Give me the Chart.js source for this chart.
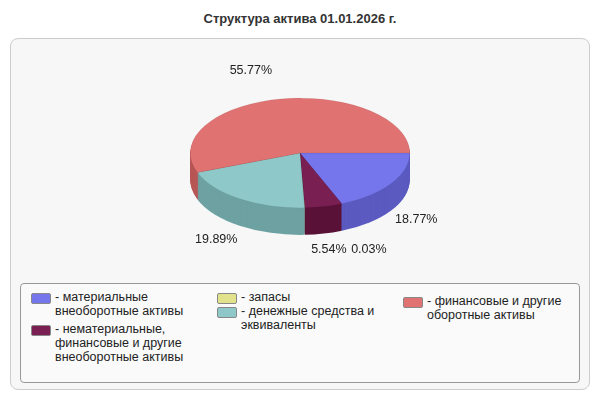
<!DOCTYPE html>
<html><head><meta charset="utf-8">
<script src="https://cdn.jsdelivr.net/npm/chart.js@4"></script>
<style>
body{margin:0;width:600px;height:400px;background:#fff;font-family:Arial,"Liberation Sans",sans-serif;position:relative;overflow:hidden}
#title{position:absolute;top:11px;left:0;width:600px;text-align:center;font-weight:bold;font-size:13px;color:#333}
#panel{position:absolute;left:10px;top:38px;width:578px;height:350px;background:#f7f7f7;border:1px solid #ccc;border-radius:8px}
#c{position:absolute;left:0;top:0}
#legend{position:absolute;left:20px;top:283px;width:558px;height:98px;border:1px solid #999;border-radius:4px;background:#fafafa;font-size:12.5px;color:#222}
.li{position:absolute;display:flex;line-height:14px}
.sw{width:18px;height:9px;border:1px solid #888;border-radius:2px;margin:3px 4px 0 0;flex:none}
</style></head><body>
<div id="panel"></div>
<div id="title">Структура актива 01.01.2026 г.</div>
<canvas id="c" width="600" height="400"></canvas>
<div id="legend"></div>
<script>
const categories=["материальные внеоборотные активы","нематериальные, финансовые и другие внеоборотные активы","запасы","денежные средства и эквиваленты","финансовые и другие оборотные активы"];
const values=[18.77,5.54,0.03,19.89,55.77];
const colors=["#7676ec","#7a1f52","#e2e28c","#8ec8c8","#e07272"];
const sideColors=["#5a5ac0","#5a1238","#b8b86a","#6ea2a2","#b85656"];
const legendPos=[[10,6,"- материальные<br>внеоборотные активы"],[10,38,"- нематериальные,<br>финансовые и другие<br>внеоборотные активы"],[196,6,"- запасы"],[196,20,"- денежные средства и<br>эквиваленты"],[382,10,"- финансовые и другие<br>оборотные активы"]];
const lg=document.getElementById('legend');
legendPos.forEach((p,i)=>{const d=document.createElement('div');d.className='li';d.style.left=p[0]+'px';d.style.top=p[1]+'px';d.innerHTML='<div class="sw" style="background:'+colors[i]+'"></div><div>'+p[2]+'</div>';lg.appendChild(d);});
const SY=0.5,DEPTH=27;
const pie3d={id:'pie3d',
beforeDatasetsDraw(ch){const ctx=ch.ctx;const arcs=ch.getDatasetMeta(0).data;const a=arcs[0];const cx=a.x,cy=a.y;
 for(let d=DEPTH;d>0;d--){ctx.save();ctx.translate(cx,cy+d);ctx.scale(1,SY);ctx.translate(-cx,-cy);
  arcs.forEach((e,i)=>{ctx.beginPath();ctx.moveTo(cx,cy);ctx.arc(cx,cy,e.outerRadius,e.startAngle,e.endAngle);ctx.closePath();ctx.fillStyle=sideColors[i];ctx.fill();});
  ctx.restore();}
 ctx.save();ctx.translate(cx,cy);ctx.scale(1,SY);ctx.translate(-cx,-cy);},
afterDatasetsDraw(ch){const ctx=ch.ctx;ctx.restore();
 const arcs=ch.getDatasetMeta(0).data;ctx.save();ctx.font='12.5px Arial, "Liberation Sans"';ctx.fillStyle='#222';ctx.textBaseline='middle';
 let prev=null;
 arcs.forEach((e,i)=>{const m=(e.startAngle+e.endAngle)/2;const r=e.outerRadius;let x=e.x+Math.cos(m)*r*1.22,y=e.y+Math.sin(m)*r*SY*1.3+(Math.sin(m)>0?DEPTH:0);
  const t=values[i].toFixed(2)+'%';ctx.textAlign='center';
  if(i===4){x-=25;y-=12;}
  if(i===0){x+=5;}
  if(i===3){x-=10;}
  if(prev&&Math.abs(prev[0]-x)<45&&Math.abs(prev[1]-y)<14){x=prev[0]+40;y=prev[1];}
  ctx.fillText(t,x,y);prev=[x,y];});
 ctx.restore();}};
new Chart(document.getElementById('c'),{type:'pie',
 data:{labels:categories,datasets:[{data:values,backgroundColor:colors,borderColor:'rgba(0,0,0,0.15)',borderWidth:0.5}]},
 options:{responsive:false,animation:false,rotation:90,layout:{padding:{left:190,right:190,top:43,bottom:137}},
  plugins:{legend:{display:false},tooltip:{enabled:false}}},
 plugins:[pie3d]});
</script></body></html>
